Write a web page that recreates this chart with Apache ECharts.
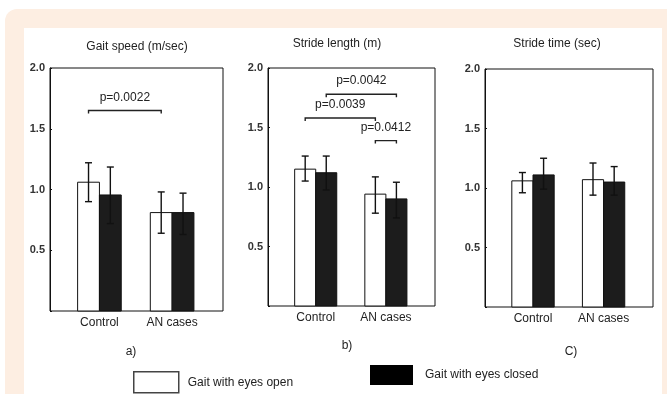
<!DOCTYPE html>
<html>
<head>
<meta charset="utf-8">
<script src="https://cdn.jsdelivr.net/npm/echarts@6/dist/echarts.min.js"></script>
<style>
html,body{margin:0;padding:0;background:#fff;}
#chart{width:667px;height:394px;}
</style>
</head>
<body>
<div id="chart"></div>
<script>
// ---------------- data ----------------
const categories = ['Control', 'AN cases'];
const panelTitles = ['Gait speed (m/sec)', 'Stride length (m)', 'Stride time (sec)'];
const panelTags = ['a)', 'b)', 'C)'];
const seriesNames = ['Gait with eyes open', 'Gait with eyes closed'];
const yTickValues = [0.5, 1.0, 1.5, 2.0];

// Gait speed (m/sec)
const speedOpen = [1.06, 0.81];
const speedOpenErr = [[0.90, 1.22], [0.64, 0.98]];
const speedClosed = [0.955, 0.81];
const speedClosedErr = [[0.72, 1.185], [0.63, 0.97]];
// bar index: 0 Control open, 1 Control closed, 2 AN open, 3 AN closed
const speedBrackets = [[0, 2, 1.65, 'p=0.0022']];

// Stride length (m)
const lengthOpen = [1.15, 0.94];
const lengthOpenErr = [[1.05, 1.26], [0.78, 1.085]];
const lengthClosed = [1.12, 0.90];
const lengthClosedErr = [[0.975, 1.26], [0.74, 1.04]];
const lengthBrackets = [
  [1, 3, 1.78, 'p=0.0042'],
  [0, 2, 1.58, 'p=0.0039'],
  [2, 3, 1.39, 'p=0.0412']
];

// Stride time (sec)
const timeOpen = [1.06, 1.07];
const timeOpenErr = [[0.96, 1.13], [0.94, 1.21]];
const timeClosed = [1.11, 1.05];
const timeClosedErr = [[0.99, 1.25], [0.94, 1.18]];
const timeBrackets = [];

// ---------------- build ----------------
const FONT = '"Liberation Sans", Arial, sans-serif';
const BAR_W = 0.30;          // bar width in x-axis units
const X_MIN = -0.68, X_MAX = 1.70;

const panels = [
  {open: speedOpen, openErr: speedOpenErr, closed: speedClosed, closedErr: speedClosedErr, brackets: speedBrackets,
   grid: {left: 50, top: 68, width: 173, height: 243}, titleX: 137, titleY: 47, tagX: 131, tagY: 352},
  {open: lengthOpen, openErr: lengthOpenErr, closed: lengthClosed, closedErr: lengthClosedErr, brackets: lengthBrackets,
   grid: {left: 268, top: 68, width: 167, height: 238}, titleX: 337, titleY: 44, tagX: 347, tagY: 346},
  {open: timeOpen, openErr: timeOpenErr, closed: timeClosed, closedErr: timeClosedErr, brackets: timeBrackets,
   grid: {left: 485, top: 69, width: 168, height: 238}, titleX: 557, titleY: 44, tagX: 571, tagY: 352}
];

function barX(i) {
  return Math.floor(i / 2) + (i % 2 ? 1 : -1) * BAR_W / 2;
}

function barRenderer(side, fill) {
  return function (params, api) {
    const x = api.value(0), y = api.value(1);
    const base = api.coord([x, 0]);
    const top = api.coord([x, y]);
    const w = api.size([BAR_W, 0])[0];
    const left = side < 0 ? base[0] - w : base[0];
    return {
      type: 'rect',
      shape: {x: left, y: top[1], width: w, height: base[1] - top[1]},
      style: {fill: fill, stroke: '#111', lineWidth: 1}
    };
  };
}

function errRenderer(params, api) {
  const x = api.value(0);
  const lo = api.coord([x, api.value(1)]);
  const hi = api.coord([x, api.value(2)]);
  const cap = 3.5;
  const st = {stroke: '#111', lineWidth: 1.4};
  return {
    type: 'group',
    children: [
      {type: 'line', shape: {x1: lo[0], y1: lo[1], x2: hi[0], y2: hi[1]}, style: st},
      {type: 'line', shape: {x1: lo[0] - cap, y1: lo[1], x2: lo[0] + cap, y2: lo[1]}, style: st},
      {type: 'line', shape: {x1: hi[0] - cap, y1: hi[1], x2: hi[0] + cap, y2: hi[1]}, style: st}
    ]
  };
}

function bracketRendererFor(brackets) {
  return function (params, api) {
    const b = brackets[params.dataIndex];
    const p1 = api.coord([barX(b[0]), b[2]]);
    const p2 = api.coord([barX(b[1]), b[2]]);
    return {
      type: 'group',
      children: [
        {type: 'polyline', shape: {points: [[p1[0], p1[1] + 3], [p1[0], p1[1]], [p2[0], p2[1]], [p2[0], p2[1] + 3]]},
         style: {stroke: '#222', lineWidth: 1.4, fill: null}},
        {type: 'text', x: (p1[0] + p2[0]) / 2, y: p1[1] - 13,
         style: {text: b[3], fill: '#222', font: '12px ' + FONT, textAlign: 'center', textVerticalAlign: 'middle'}}
      ]
    };
  };
}

const grids = [], xAxes = [], yAxes = [], series = [], graphics = [];

graphics.push({type: 'rect', z: -10, shape: {x: 5, y: 9, width: 720, height: 420, r: 12}, style: {fill: '#fdeee2'}});
graphics.push({type: 'rect', z: -9, shape: {x: 24, y: 28, width: 638, height: 380}, style: {fill: '#ffffff'}});

panels.forEach(function (p, k) {
  grids.push(Object.assign({show: true, borderColor: '#111', borderWidth: 1, backgroundColor: 'transparent'}, p.grid));
  xAxes.push({
    gridIndex: k, type: 'value', min: X_MIN, max: X_MAX,
    axisLine: {show: false, onZero: false}, axisTick: {show: false}, splitLine: {show: false},
    axisLabel: {
      customValues: [0, 1],
      formatter: function (v) { return categories[Math.round(v)]; },
      color: '#222', fontSize: 12, fontFamily: FONT, margin: 6
    }
  });
  yAxes.push({
    gridIndex: k, type: 'value', min: 0, max: 2, interval: 0.5,
    axisLine: {show: true, onZero: false, lineStyle: {color: '#111'}},
    axisTick: {show: true, inside: true, length: 2, lineStyle: {color: '#111'}},
    splitLine: {show: false},
    axisLabel: {
      formatter: function (v) { return yTickValues.indexOf(v) >= 0 ? v.toFixed(1) : ''; },
      color: '#333', fontSize: 11, fontWeight: 'bold', fontFamily: FONT, margin: 5
    }
  });
  series.push({
    name: seriesNames[0], type: 'custom', xAxisIndex: k, yAxisIndex: k,
    itemStyle: {color: '#ffffff', borderColor: '#444'},
    renderItem: barRenderer(-1, '#ffffff'),
    data: p.open.map(function (v, i) { return [i, v]; }), encode: {x: 0, y: 1}
  });
  series.push({
    name: seriesNames[1], type: 'custom', xAxisIndex: k, yAxisIndex: k,
    itemStyle: {color: '#1c1c1c'},
    renderItem: barRenderer(1, '#1c1c1c'),
    data: p.closed.map(function (v, i) { return [i, v]; }), encode: {x: 0, y: 1}
  });
  const errData = [];
  p.openErr.forEach(function (e, i) { errData.push([i - BAR_W / 2, e[0], e[1]]); });
  p.closedErr.forEach(function (e, i) { errData.push([i + BAR_W / 2, e[0], e[1]]); });
  series.push({
    type: 'custom', xAxisIndex: k, yAxisIndex: k, z: 5,
    renderItem: errRenderer, data: errData, encode: {x: 0, y: [1, 2]}
  });
  if (p.brackets.length) {
    series.push({
      type: 'custom', xAxisIndex: k, yAxisIndex: k, z: 5,
      renderItem: bracketRendererFor(p.brackets),
      data: p.brackets.map(function (b) { return [barX(b[0]), b[2]]; }), encode: {x: 0, y: 1}
    });
  }
  graphics.push({type: 'text', x: p.titleX, y: p.titleY,
    style: {text: panelTitles[k], fill: '#222', font: '12px ' + FONT, textAlign: 'center', textVerticalAlign: 'middle'}});
  graphics.push({type: 'text', x: p.tagX, y: p.tagY,
    style: {text: panelTags[k], fill: '#222', font: '12px ' + FONT, textAlign: 'center', textVerticalAlign: 'middle'}});
});

const option = {
  animation: false,
  backgroundColor: '#ffffff',
  grid: grids,
  xAxis: xAxes,
  yAxis: yAxes,
  graphic: graphics,
  legend: [
    {
      left: 133, top: 371, padding: 0, selectedMode: false, itemWidth: 45, itemHeight: 21,
      textStyle: {color: '#222', fontSize: 12, fontFamily: FONT, padding: [0, 0, 0, 4]},
      data: [{name: seriesNames[0], icon: 'rect', itemStyle: {color: '#ffffff', borderColor: '#444', borderWidth: 1.5}}]
    },
    {
      left: 370, top: 365, padding: 0, selectedMode: false, itemWidth: 43, itemHeight: 20,
      textStyle: {color: '#222', fontSize: 12, fontFamily: FONT, padding: [11, 0, 0, 7]},
      data: [{name: seriesNames[1], icon: 'rect', itemStyle: {color: '#000000'}}]
    }
  ],
  series: series
};

const chart = echarts.init(document.getElementById('chart'), null, {renderer: 'canvas'});
chart.setOption(option);
</script>
</body>
</html>
